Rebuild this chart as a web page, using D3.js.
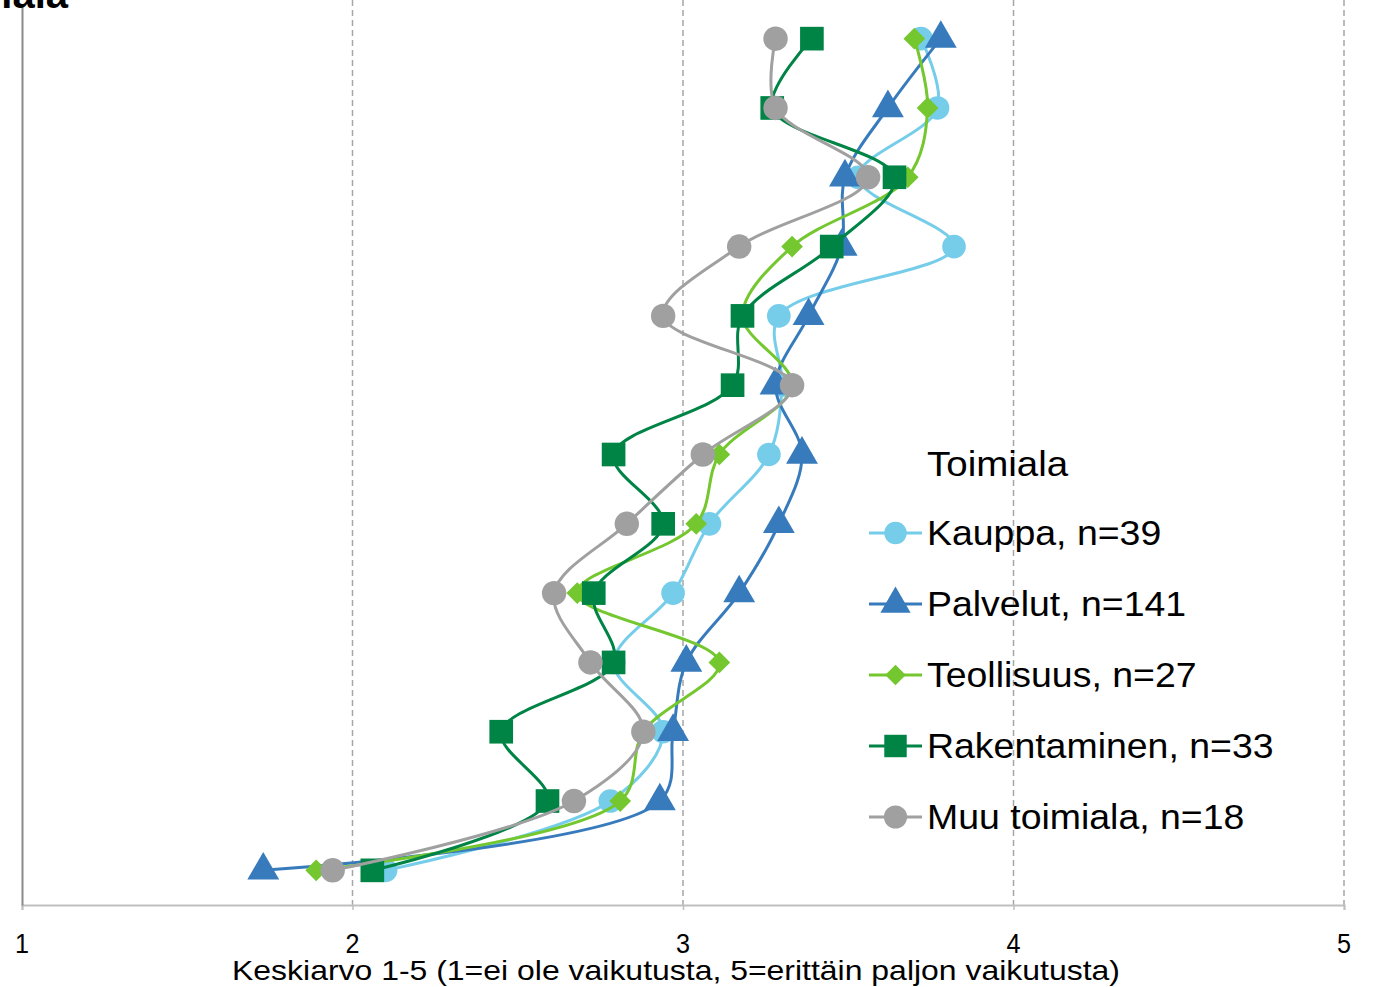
<!DOCTYPE html>
<html><head><meta charset="utf-8">
<script src="https://cdn.jsdelivr.net/npm/d3@7"></script>
<style>body{margin:0;background:#fff}svg{display:block;font-family:"Liberation Sans",Arial,sans-serif}</style>
</head><body><svg id="c" width="1374" height="987"></svg>
<script>
const categories = ["V1","V2","V3","V4","V5","V6","V7","V8","V9","V10","V11","V12","V13"];
const seriesNames = ["Kauppa, n=39","Palvelut, n=141","Teollisuus, n=27","Rakentaminen, n=33","Muu toimiala, n=18"];
const kauppa       = [3.72,3.77,3.53,3.82,3.29,3.30,3.26,3.08,2.97,2.79,2.94,2.78,2.10];
const palvelut     = [3.78,3.62,3.49,3.48,3.38,3.28,3.36,3.29,3.17,3.01,2.97,2.93,1.73];
const teollisuus   = [3.70,3.74,3.68,3.33,3.18,3.33,3.11,3.04,2.68,3.11,2.88,2.81,1.89];
const rakentaminen = [3.39,3.27,3.64,3.45,3.18,3.15,2.79,2.94,2.73,2.79,2.45,2.59,2.06];
const muu          = [3.28,3.28,3.56,3.17,2.94,3.33,3.06,2.83,2.61,2.72,2.88,2.67,1.94];
const xTicks = [1,2,3,4,5];
const xTitle = "Keskiarvo 1-5 (1=ei ole vaikutusta, 5=erittäin paljon vaikutusta)";
const legendTitle = "Toimiala";

const seriesValues = [kauppa, palvelut, teollisuus, rakentaminen, muu];
const colors = ["#75cdea","#377bbd","#74c72f","#008446","#a0a0a0"];
const shapes = [d3.symbolCircle, d3.symbolTriangle, d3.symbolDiamond2 || d3.symbolDiamond, d3.symbolSquare, d3.symbolCircle];
const sizes = [440, 440, 300, 560, 470];

const svg = d3.select("#c");
const x = d3.scaleLinear().domain([1,5]).range([22,1344]);
const y = d3.scaleBand().domain(categories).range([4,905]);
const yc = c => y(c) + y.bandwidth()/2;

// grid
svg.append("g").selectAll("line").data(xTicks.slice(1)).join("line")
  .attr("x1",d=>x(d)).attr("x2",d=>x(d)).attr("y1",0).attr("y2",905)
  .attr("stroke","#a6a6a6").attr("stroke-width",1.5).attr("stroke-dasharray","6,4");

// x axis
const xa = svg.append("g").attr("transform","translate(0,905)")
  .call(d3.axisBottom(x).tickValues(xTicks).tickSize(5).tickFormat(""));
xa.select(".domain").attr("stroke","#bfbfbf").attr("stroke-width",2);
xa.selectAll(".tick line").attr("stroke","#bfbfbf").attr("stroke-width",1.5);
svg.append("g").selectAll("text").data(xTicks).join("text")
  .attr("transform",d=>`translate(${x(d)},953) scale(0.9,1)`).attr("text-anchor","middle")
  .attr("font-size",28).attr("fill","#000").text(d=>d);
svg.append("text").attr("x",676).attr("y",980).attr("text-anchor","middle")
  .attr("font-size",28).attr("textLength",888).attr("lengthAdjust","spacingAndGlyphs").text(xTitle);

// y axis
svg.append("g").attr("transform","translate(22,0)")
  .call(d3.axisLeft(y).tickSize(0).tickFormat(""))
  .select(".domain").attr("stroke","#8a8a8a").attr("stroke-width",2);

// partially visible title
svg.append("text").attr("x",68).attr("y",8).attr("text-anchor","end")
  .attr("font-size",40).attr("font-weight","bold").text("Toimiala");

const line = d3.line().curve(d3.curveCatmullRom.alpha(0.5))
  .x(d=>x(d.v)).y(d=>yc(d.c));

seriesValues.forEach((vals,i)=>{
  const pts = vals.map((v,j)=>({v, c:categories[j]}));
  const g = svg.append("g");
  g.append("path").datum(pts).attr("d",line).attr("fill","none")
    .attr("stroke",colors[i]).attr("stroke-width",3);
  g.selectAll("path.m").data(pts).join("path").attr("class","m")
    .attr("transform",d=>`translate(${x(d.v)},${yc(d.c)})`)
    .attr("d",d3.symbol(shapes[i], sizes[i])).attr("fill",colors[i]);
});

// legend
const lg = svg.append("g");
lg.append("text").attr("transform","translate(927,476) scale(1.1,1)").attr("font-size",35).text(legendTitle);
seriesNames.forEach((n,i)=>{
  const cy = 533 + i*71;
  lg.append("line").attr("x1",869).attr("x2",922).attr("y1",cy).attr("y2",cy)
    .attr("stroke",colors[i]).attr("stroke-width",3);
  lg.append("path").attr("transform",`translate(895.5,${cy})`)
    .attr("d",d3.symbol(shapes[i], sizes[i]*0.9)).attr("fill",colors[i]);
  lg.append("text").attr("transform",`translate(927,${cy+12}) scale(1.07,1)`).attr("font-size",35).text(n);
});
</script></body></html>
